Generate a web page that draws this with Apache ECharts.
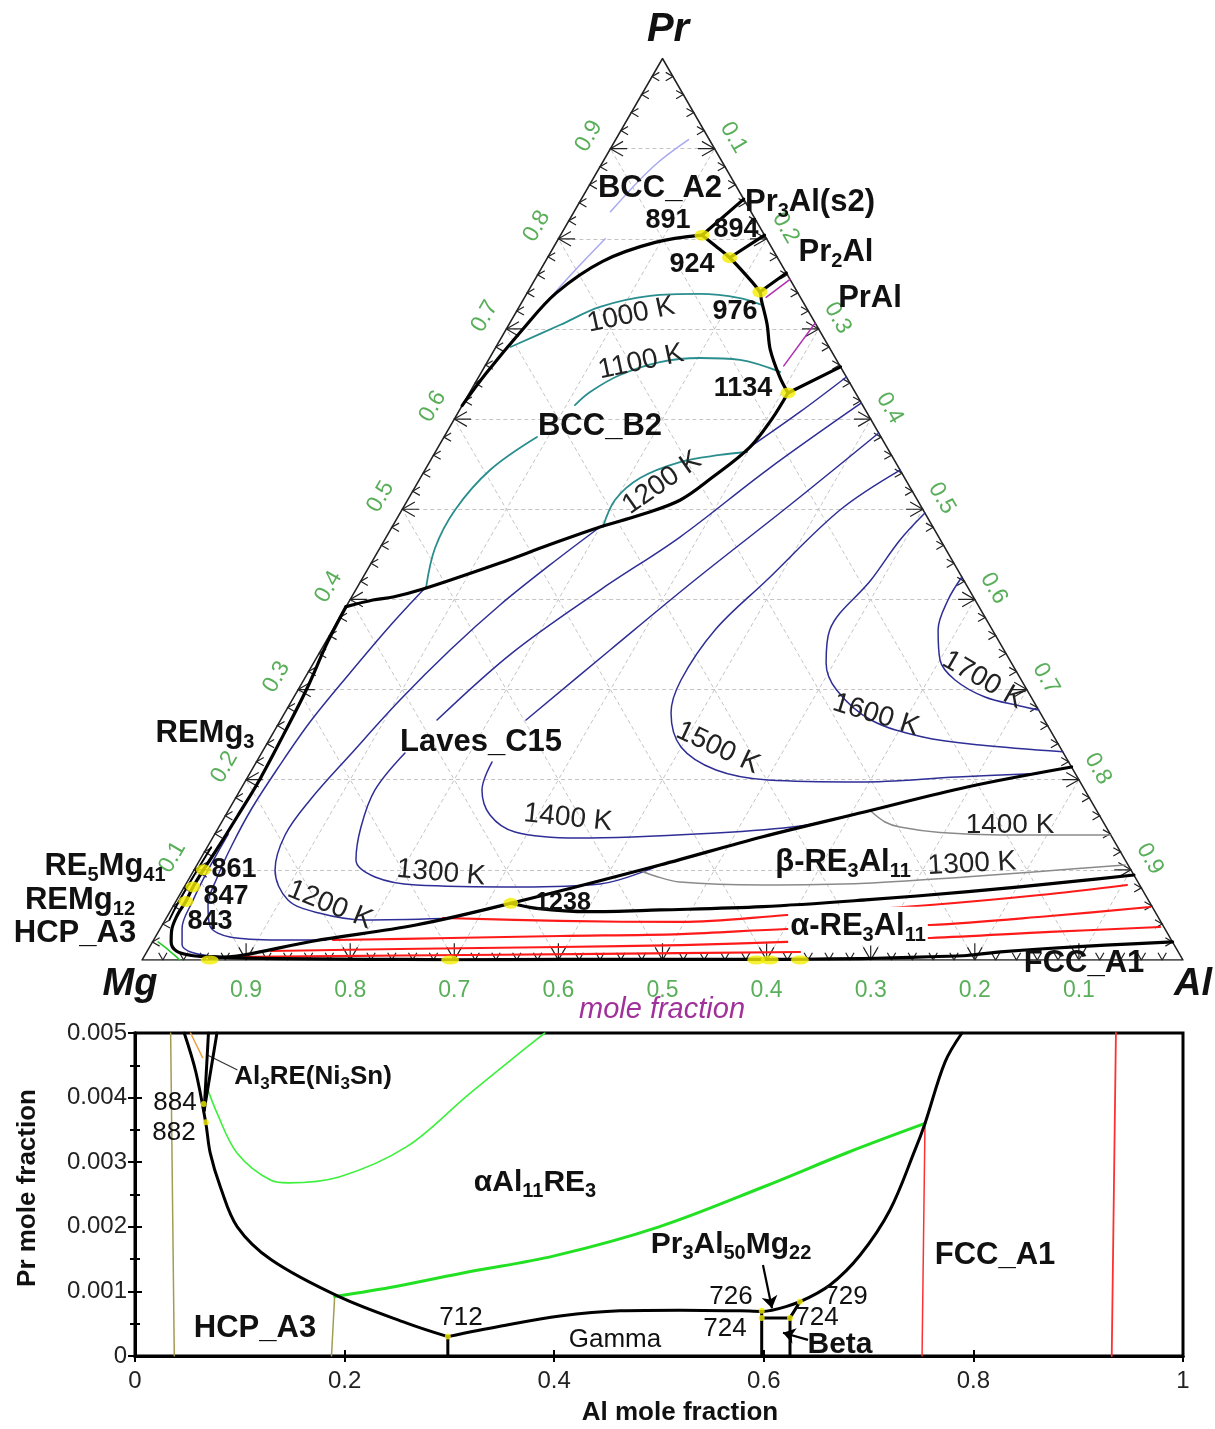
<!DOCTYPE html>
<html><head><meta charset="utf-8">
<script src="https://cdn.jsdelivr.net/npm/echarts/dist/echarts.min.js"></script>
<style>html,body{margin:0;padding:0;background:#fff}#c{width:1215px;height:1429px}</style>
</head><body><div id="c"></div>
<script>
// ---------- ternary data: points are [xAl, xPr] (xMg = 1 - xAl - xPr) ----------
const bccA2B2 = [[0,0.615],[0.005,0.65],[0.016,0.70],[0.028,0.74],[0.055,0.775],[0.095,0.796],[0.136,0.804]];
const a2Pr3Al = [[0.136,0.804],[0.156,0.844]];
const chain891to1134 = [[0.136,0.804],[0.155,0.792],[0.175,0.779],[0.2,0.76],[0.223,0.741],[0.229,0.732],[0.248,0.705],[0.265,0.677],[0.289,0.647],[0.306,0.629]];
const line924 = [[0.175,0.779],[0.196,0.804]];
const line976 = [[0.223,0.741],[0.238,0.762]];
const line1134 = [[0.306,0.629],[0.342,0.658]];
const b2Laves = [[0.306,0.629],[0.305,0.6],[0.2995,0.569],[0.2806,0.536],[0.2617,0.51],[0.2316,0.4936],[0.1998,0.4803],[0.16,0.46],[0.1237,0.4404],[0.0642,0.4115],[0.0398,0.4027],[0.0222,0.3993],[0,0.392]];
const remg3 = [[0,0.392],[0.002,0.352],[0.008,0.30],[0.011,0.25],[0.013,0.20],[0.012,0.16],[0.011,0.133],[0.009,0.100]];
const edgeBundle = [[0.004,0.125],[0.003,0.09],[0.003,0.06],[0.004,0.045]];
const cornerLine = [[0.009,0.100],[0.0085,0.081],[0.0096,0.065],[0.009,0.05],[0.012,0.033],[0.018,0.02],[0.028,0.01],[0.045,0.005],[0.066,0.0037]];
const alphaLow = [[0.066,0.0037],[0.083,0.0026],[0.1,0.002],[0.129,0.0016],[0.186,0.001],[0.253,0.0006],[0.296,0.0003],[0.405,0.0006],[0.52,0.0007],[0.598,0.0007],[0.632,0.00085],[0.69,0.0016],[0.72,0.0023],[0.754,0.0036],[0.79,0.005],[0.82,0.009],[0.86,0.0125],[0.917,0.0166],[0.98,0.02]];
const lavesBeta = [[0.064,0.0019],[0.0946,0.0055],[0.1533,0.0208],[0.2437,0.0388],[0.3228,0.0629],[0.4449,0.1054],[0.5279,0.1368],[0.6127,0.1645],[0.6976,0.1922],[0.7859,0.2141]];
const betaAlpha = [[0.3228,0.0629],[0.3504,0.0573],[0.402,0.0536],[0.4699,0.0555],[0.5667,0.0591],[0.6617,0.0666],[0.7558,0.0758],[0.849,0.0869],[0.9057,0.0943]];
const redA = [[0.2658,0.0466],[0.3799,0.0433],[0.4967,0.0422],[0.5946,0.0499],[0.7265,0.061],[0.8266,0.0721],[0.9046,0.0832]];
const redB = [[0.1724,0.0222],[0.2837,0.0244],[0.3882,0.0266],[0.5034,0.0288],[0.6024,0.0344],[0.7376,0.0388],[0.8478,0.0488],[0.9389,0.0588]];
const redC = [[0.1189,0.01],[0.2417,0.0122],[0.3943,0.0144],[0.5095,0.0166],[0.6096,0.02],[0.7448,0.0244],[0.8567,0.0311],[0.9596,0.0366]];
const redD = [[0.0828,0.0033],[0.2453,0.005],[0.4367,0.0067],[0.6277,0.0089]];
const gray1400 = [[0.617,0.1655],[0.6372,0.1531],[0.6543,0.1475],[0.6959,0.1414],[0.7549,0.1387],[0.8606,0.1387]];
const gray1300 = [[0.428,0.0995],[0.4462,0.0932],[0.4735,0.0865],[0.5547,0.0832],[0.6525,0.0851],[0.7475,0.0924],[0.8105,0.0979],[0.8916,0.1054]];
const b1700 = [[0.5752,0.4248],[0.5746,0.3993],[0.5817,0.3661],[0.6002,0.3328],[0.6257,0.3106],[0.6639,0.2917],[0.7025,0.2818],[0.7227,0.2773]];
const b1600 = [[0.5042,0.4958],[0.4952,0.4659],[0.4895,0.4215],[0.4776,0.3661],[0.4924,0.3295],[0.5175,0.2995],[0.5672,0.2662],[0.6264,0.2474],[0.6857,0.2385],[0.7689,0.2311]];
const b1500 = [[0.4565,0.5435],[0.4209,0.4992],[0.3896,0.4215],[0.3674,0.3661],[0.3625,0.3106],[0.3712,0.274],[0.3996,0.2363],[0.446,0.2108],[0.5015,0.1997],[0.591,0.1975],[0.6814,0.203],[0.7573,0.207]];
const b1400a = [[0.4154,0.5846],[0.3701,0.5047],[0.3204,0.4215],[0.2777,0.3439],[0.2358,0.2662]];
const b1400b = [[0.2264,0.2196],[0.2323,0.1886],[0.2539,0.1608],[0.2873,0.142],[0.3511,0.1353],[0.481,0.1409],[0.5578,0.1486],[0.606,0.162]];
const b1300a = [[0.3821,0.6179],[0.3286,0.5435],[0.2822,0.4692],[0.2348,0.4104],[0.1851,0.3405],[0.1503,0.2662]];
const b1300b = [[0.1378,0.2296],[0.1295,0.1886],[0.1366,0.1475],[0.1501,0.1109],[0.1778,0.0921],[0.2216,0.0832],[0.3217,0.081],[0.3978,0.0843],[0.4449,0.1054]];
const b1200a = [[0.2995,0.569],[0.3281,0.6079],[0.3533,0.6467]];
const b1200b = [[0.1998,0.4803],[0.1728,0.4382],[0.147,0.3938],[0.124,0.3439],[0.1036,0.2884],[0.0861,0.2274],[0.0727,0.1775],[0.0681,0.1387],[0.0779,0.0998],[0.1069,0.0666],[0.1439,0.0521],[0.1911,0.0444],[0.266,0.046]];
const b1100 = [[0.066,0.414],[0.0529,0.3705],[0.0406,0.3184],[0.0294,0.264],[0.0241,0.213],[0.0214,0.1686],[0.0227,0.1276],[0.0265,0.091],[0.0329,0.061],[0.0464,0.0377],[0.0717,0.0255],[0.1195,0.0222],[0.1657,0.0222]];
const b1000 = [[0.013,0.14],[0.0135,0.1],[0.016,0.065],[0.021,0.035],[0.03,0.017],[0.045,0.008],[0.07,0.004],[0.1,0.003]];
const t1000 = [[0.014,0.68],[0.0493,0.7044],[0.0778,0.7244],[0.1197,0.7366],[0.1666,0.7388],[0.2073,0.7343],[0.2323,0.7266]];
const t1100a = [[0.2868,0.6523],[0.2417,0.6656],[0.2021,0.6678],[0.1659,0.6633],[0.1347,0.6489],[0.1154,0.6301],[0.1081,0.6156]];
const t1100b = [[0.0894,0.5801],[0.0626,0.5435],[0.0511,0.4992],[0.053,0.457],[0.066,0.414]];
const t1200 = [[0.2027,0.4803],[0.1992,0.5103],[0.2111,0.5347],[0.2406,0.5524],[0.2751,0.5602],[0.2995,0.5635]];
const magentaA = [[0.287,0.659],[0.2934,0.7066]];
const magentaB = [[0.232,0.735],[0.245,0.755]];
const lavA = [[0.016,0.70],[0.032,0.76],[0.045,0.80]];
const lavB = [[0.035,0.83],[0.051,0.88],[0.07,0.91]];
const greenCorner = [[0.0054,0.02],[0.02,0.011],[0.0365,0]];
const junctionPts = [[0.136,0.804],[0.175,0.779],[0.223,0.741],[0.306,0.629],[0.3228,0.0629],[0.009,0.100],[0.0085,0.081],[0.0096,0.065]];
const baseDots = [[0.065,0],[0.296,0],[0.59,0],[0.603,0],[0.632,0]];
const tickVals = [0.1,0.2,0.3,0.4,0.5,0.6,0.7,0.8,0.9];
const tickText = ['0.1','0.2','0.3','0.4','0.5','0.6','0.7','0.8','0.9'];

// ---------- lower plot data: [xAl, xPr] ----------
const hcpBound = [[0.047,0.005],[0.058,0.0044],[0.0676,0.0036],[0.0718,0.00314],[0.0814,0.00262],[0.0976,0.002],[0.13,0.00149],[0.1947,0.00092],[0.2593,0.00051],[0.2985,0.0003]];
const vLine1 = [[0.0701,0.005],[0.066,0.0038]];
const vLine2 = [[0.0782,0.005],[0.066,0.0038]];
const orangeLow = [[0.053,0.005],[0.0645,0.00462]];
const leader = [[0.0973,0.00443],[0.069,0.00466]];
const drop712 = [[0.2985,0.0003],[0.2985,0]];
const gammaLine = [[0.2985,0.0003],[0.3483,0.00046],[0.4055,0.00062],[0.4628,0.0007],[0.52,0.00071],[0.5773,0.0007],[0.598,0.00069],[0.6345,0.00084]];
const boxL = [[0.598,0.00069],[0.598,0]];
const boxTop = [[0.598,0.00059],[0.625,0.00059]];
const boxR = [[0.625,0],[0.625,0.00059],[0.6345,0.00084]];
const fccBound = [[0.6345,0.00084],[0.6632,0.0011],[0.6918,0.00156],[0.7204,0.00226],[0.7443,0.00319],[0.7538,0.0036],[0.7729,0.00455],[0.7891,0.005]];
const green1 = [[0.0685,0.00417],[0.0783,0.00376],[0.0975,0.00314],[0.1298,0.00272],[0.1462,0.00268],[0.1947,0.00277],[0.2593,0.00324],[0.3176,0.00404],[0.36,0.0046],[0.391,0.005]];
const green2 = [[0.1905,0.00092],[0.25,0.00108],[0.3176,0.0013],[0.4,0.00155],[0.5,0.002],[0.6,0.00262],[0.68,0.00315],[0.7538,0.0036]];
const olive1 = [[0.034,0.005],[0.0375,0]];
const olive2 = [[0.1905,0.00092],[0.1875,0]];
const red1 = [[0.7538,0.0036],[0.751,0]];
const red2 = [[0.936,0.005],[0.932,0]];
const lowDots = [[0.0655,0.0039],[0.0676,0.00362],[0.2985,0.0003],[0.598,0.0007],[0.598,0.00059],[0.625,0.00059],[0.6345,0.00084]];
const arrowPr3 = [[0.5992,0.00141],[0.6078,0.00074]];
const arrowBeta = [[0.6422,0.00025],[0.6183,0.00036]];
const xTicks = [0,0.2,0.4,0.6,0.8,1];
const yTicks = [0,0.001,0.002,0.003,0.004,0.005];

// ---------- helpers ----------
const S3 = Math.sqrt(3) / 2;
const tp = p => [p[0] + p[1] / 2, p[1] * S3];
const F = 'Liberation Sans, Arial, sans-serif';
const series = [];
function tLine(pts, color, width, extra) {
  series.push(Object.assign({type:'line', xAxisIndex:0, yAxisIndex:0, data: pts.map(tp), symbol:'none', smooth:0.35,
    silent:true, animation:false, z:3, lineStyle:{color:color, width:width, cap:'round', join:'round'}}, extra||{}));
}
function bLine(pts, color, width, extra) {
  series.push(Object.assign({type:'line', xAxisIndex:1, yAxisIndex:1, data: pts, symbol:'none', smooth:0.35,
    silent:true, animation:false, z:3, lineStyle:{color:color, width:width, cap:'round', join:'round'}}, extra||{}));
}

// ternary grid (dashed) and frame
const gridSegs = [];
tickVals.forEach(v => {
  gridSegs.push({coords:[tp([0,v]), tp([1-v,v])]});
  gridSegs.push({coords:[tp([v,0]), tp([v,1-v])]});
  gridSegs.push({coords:[tp([1-v,0]), tp([0,1-v])]});
});
series.push({type:'lines', coordinateSystem:'cartesian2d', xAxisIndex:0, yAxisIndex:0, data:gridSegs, silent:true, animation:false, z:1,
  lineStyle:{color:'#c4c4c4', width:1, type:[4,3], opacity:1}});
// arrow-head ticks every 0.02 ('<' on the left edge, '>' on the right edge, 'V' on the base)
const chev = [];
const C30 = Math.cos(Math.PI/6), S30 = 0.5;
for (let i = 1; i < 50; i++) {
  const v = i / 50, major = (i % 5 === 0), L = major ? 0.014 : 0.008, M = 0.016;
  const A = tp([0, v]);
  chev.push({coords:[[A[0]+L*C30, A[1]+L*S30], A, [A[0]+L*C30, A[1]-L*S30]]});
  if (major) chev.push({coords:[A, [A[0]+M, A[1]]]});
  const B = tp([1-v, v]);
  chev.push({coords:[[B[0]-L*C30, B[1]+L*S30], B, [B[0]-L*C30, B[1]-L*S30]]});
  if (major) chev.push({coords:[B, [B[0]-M, B[1]]]});
  const D = tp([v, 0]);
  chev.push({coords:[[D[0]-L*S30, D[1]+L*C30], D, [D[0]+L*S30, D[1]+L*C30]]});
  if (major) chev.push({coords:[D, [D[0], D[1]+M]]});
}
series.push({type:'lines', coordinateSystem:'cartesian2d', xAxisIndex:0, yAxisIndex:0, polyline:true, data:chev, silent:true, animation:false, z:2,
  lineStyle:{color:'#222', width:1.2, opacity:1}});
tLine([[0,0],[1,0],[0,1],[0,0]], '#222', 1.5, {smooth:false, z:2});

// isotherms
const BLUE = '#2e2e96', TEAL = '#2a8e8e';
[b1700,b1600,b1500,b1400a,b1400b,b1300a,b1300b,b1200a,b1200b,b1100,b1000].forEach(c => tLine(c, BLUE, 1.5));
[t1000,t1100a,t1100b,t1200].forEach(c => tLine(c, TEAL, 1.8));
[gray1400,gray1300].forEach(c => tLine(c, '#8a8a8a', 1.5));
[redA,redB,redC,redD].forEach(c => tLine(c, '#ff1a1a', 2.2));
[magentaA,magentaB].forEach(c => tLine(c, '#b030b0', 1.5, {smooth:false}));
[lavA,lavB].forEach(c => tLine(c, '#a9a9f0', 1.5));
tLine(greenCorner, '#22cc22', 1.5);
// boundaries
[bccA2B2,chain891to1134,b2Laves,remg3,cornerLine,lavesBeta,betaAlpha].forEach(c => tLine(c, '#000', 3.2, {z:5}));
[a2Pr3Al,line924,line976,line1134].forEach(c => tLine(c, '#000', 3.2, {smooth:false, z:5}));
tLine(alphaLow, '#000', 3.2, {z:5, smooth:0.2});
tLine(edgeBundle, '#000', 2, {z:5});
// yellow invariant points
series.push({type:'scatter', xAxisIndex:0, yAxisIndex:0, data: junctionPts.map(tp), symbolSize:[15,11], silent:true, animation:false, z:6,
  itemStyle:{color:'#f4ee00'}});
series.push({type:'scatter', xAxisIndex:0, yAxisIndex:0, data: baseDots.map(tp), symbolSize:[18,9], silent:true, animation:false, z:6,
  itemStyle:{color:'#f4ee00'}});
// ternary tick labels (offset is applied in the rotated label frame)
const GREEN = '#2f9a2f';
function tickLabelSeries(pts, rot, off) {
  series.push({type:'scatter', xAxisIndex:0, yAxisIndex:0, data: pts, symbolSize:0, silent:true, animation:false, z:7,
    label:{show:true, position:'inside', offset:off, rotate:rot, color:GREEN, fontSize:23, fontFamily:F,
      formatter: p => tickText[p.dataIndex]}});
}
tickLabelSeries(tickVals.map(v => tp([0, v])), 60, [0, -25]);
tickLabelSeries(tickVals.map(v => tp([v, 1 - v])), -60, [0, -22]);
tickLabelSeries(tickVals.map(v => tp([1 - v, 0])), 0, [0, 31]);

// ---------- lower plot ----------
bLine(olive1, '#a39b52', 1.5, {smooth:false});
bLine(olive2, '#a39b52', 1.5, {smooth:false});
bLine(red1, '#ff3030', 1.5, {smooth:false});
bLine(red2, '#ff3030', 1.8, {smooth:false});
bLine(green1, '#3cf03c', 1.6);
bLine(green2, '#22e022', 3);
bLine(orangeLow, '#f0a040', 1.5, {smooth:false});
bLine(leader, '#333', 1.2, {smooth:false});
[hcpBound, gammaLine, fccBound].forEach(c => bLine(c, '#000', 3, {z:5}));
[vLine1, vLine2, drop712, boxL, boxTop, boxR].forEach(c => bLine(c, '#000', 3, {z:5, smooth:false}));
series.push({type:'scatter', xAxisIndex:1, yAxisIndex:1, data: lowDots, symbolSize:6, silent:true, animation:false, z:6, itemStyle:{color:'#f4ee00'}});
series.push({type:'lines', coordinateSystem:'cartesian2d', xAxisIndex:1, yAxisIndex:1, silent:true, animation:false, z:7,
  symbol:['none','arrow'], symbolSize:12, lineStyle:{color:'#000', width:2.2, opacity:1},
  data:[{coords:arrowPr3},{coords:arrowBeta}]});

// ---------- annotations ----------
function txt(x, y, text, size, o) {
  o = o || {};
  return {type:'text', x:x, y:y, rotation:(o.rot||0)*Math.PI/180, z:100, silent:true,
    style:{text:text, fill:o.color||'#111', fontSize:size, fontWeight:o.bold===false?'normal':'bold',
      fontStyle:o.italic?'italic':'normal', fontFamily:o.family||F, align:'center', verticalAlign:'middle',
      backgroundColor:o.bg, padding:o.pad}};
}
function rtxt(x, y, parts, size, o) {
  o = o || {};
  const w = o.bold===false ? 'normal' : 'bold';
  const fam = o.family || F;
  let s = '';
  parts.forEach((p, i) => { s += (i % 2 === 0 ? '{n|' : '{s|') + p + '}'; });
  return {type:'text', x:x, y:y, z:100, silent:true,
    style:{text:s, align:'center', verticalAlign:'middle', backgroundColor:o.bg, padding:o.pad,
      rich:{n:{fontSize:size, fontWeight:w, fontFamily:fam, fill:'#111', lineHeight:size*1.25, verticalAlign:'middle'},
            s:{fontSize:Math.round(size*0.66), fontWeight:w, fontFamily:fam, fill:'#111', lineHeight:Math.round(size*0.7), verticalAlign:'bottom'}}}};
}
const RL = 31, TL = 27, IL = 28;
const graphics = [
  txt(668,30,'Pr',40,{italic:true}),
  txt(130,985,'Mg',38,{italic:true}),
  txt(1193,985,'Al',38,{italic:true}),
  txt(662,1010,'mole fraction',29,{italic:true,bold:false,color:'#a0309a'}),
  txt(660,188,'BCC_A2',RL),
  rtxt(810,202,['Pr','3','Al(s2)'],RL),
  txt(668,221,'891',TL), txt(736,230,'894',TL), txt(692,265,'924',TL),
  rtxt(836,252,['Pr','2','Al'],RL),
  txt(870,298,'PrAl',RL),
  txt(735,312,'976',TL), txt(743,389,'1134',TL),
  txt(600,426,'BCC_B2',RL),
  txt(481,742,'Laves_C15',RL),
  rtxt(205,733,['REMg','3'],RL),
  rtxt(105,866,['RE','5','Mg','41'],RL),
  rtxt(80,900,['REMg','12'],RL),
  txt(75,933,'HCP_A3',RL),
  txt(234,870,'861',TL), txt(226,897,'847',TL), txt(210,922,'843',TL),
  txt(563,903,'1238',25),
  rtxt(843,862,['β-RE','3','Al','11'],RL),
  rtxt(858,926,['α-RE','3','Al','11'],RL,{bg:'#fff',pad:[0,2]}),
  txt(1084,963,'FCC_A1',RL),
  txt(631,315,'1000 K',IL,{bold:false,rot:12,color:'#222'}),
  txt(641,362,'1100 K',IL,{bold:false,rot:12,color:'#222'}),
  txt(662,483,'1200 K',IL,{bold:false,rot:35,color:'#222'}),
  txt(330,905,'1200 K',IL,{bold:false,rot:-22,color:'#222'}),
  txt(441,873,'1300 K',IL,{bold:false,rot:-5,color:'#222'}),
  txt(568,818,'1400 K',IL,{bold:false,rot:-6,color:'#222'}),
  txt(718,748,'1500 K',IL,{bold:false,rot:-25,color:'#222'}),
  txt(876,715,'1600 K',IL,{bold:false,rot:-17,color:'#222'}),
  txt(983,680,'1700 K',IL,{bold:false,rot:-30,color:'#222'}),
  txt(1010,825,'1400 K',IL,{bold:false,color:'#222'}),
  txt(972,864,'1300 K',IL,{bold:false,rot:3,color:'#222'}),
  // lower plot
  rtxt(313,1077,['Al','3','RE(Ni','3','Sn)'],26),
  txt(175,1103,'884',26,{bold:false}), txt(174,1133,'882',26,{bold:false}),
  rtxt(535,1183,['αAl','11','RE','3'],30),
  rtxt(731,1245,['Pr','3','Al','50','Mg','22'],30),
  txt(995,1255,'FCC_A1',31),
  txt(255,1328,'HCP_A3',31),
  txt(461,1318,'712',26,{bold:false}),
  txt(731,1297,'726',26,{bold:false}),
  txt(846,1297,'729',26,{bold:false}),
  txt(725,1329,'724',26,{bold:false}),
  txt(817,1318,'724',26,{bold:false}),
  txt(615,1340,'Gamma',26,{bold:false}),
  txt(840,1345,'Beta',30),
  txt(28,1188,'Pr mole fraction',26,{rot:90}),
  txt(680,1413,'Al mole fraction',26)
];

const axLbl = {color:'#222', fontSize:24, fontFamily:F};
const option = {
  animation:false,
  backgroundColor:'#fff',
  grid:[
    {left:142, top:58.5, width:1041, height:901.5, show:false},
    {left:135, top:1033, width:1048, height:323, show:true, borderColor:'#000', borderWidth:3, backgroundColor:'transparent'}
  ],
  xAxis:[
    {gridIndex:0, type:'value', min:0, max:1, show:false},
    {gridIndex:1, type:'value', min:xTicks[0], max:xTicks[xTicks.length-1], interval:0.2, position:'bottom',
      axisLine:{lineStyle:{color:'#000', width:3}}, axisTick:{inside:true, length:6, lineStyle:{color:'#000', width:2}},
      splitLine:{show:false}, axisLabel:Object.assign({margin:13, formatter:v => (v===0?'0':(v===1?'1':v.toFixed(1)))}, axLbl)},
    {gridIndex:1, type:'value', min:0, max:1, interval:0.2, position:'top',
      axisLine:{lineStyle:{color:'#000', width:3}}, axisTick:{inside:true, length:6, lineStyle:{color:'#000', width:2}},
      splitLine:{show:false}, axisLabel:{show:false}}
  ],
  yAxis:[
    {gridIndex:0, type:'value', min:0, max:S3, show:false},
    {gridIndex:1, type:'value', min:yTicks[0], max:yTicks[yTicks.length-1], interval:0.001, position:'left',
      axisLine:{show:true, lineStyle:{color:'#000', width:3}}, axisTick:{inside:true, length:7, lineStyle:{color:'#000', width:2}},
      minorTick:{show:true, splitNumber:2, length:5, lineStyle:{color:'#000', width:2}},
      splitLine:{show:false}, axisLabel:Object.assign({margin:8, formatter:v => (v===0?'0':v.toFixed(3))}, axLbl)},
    {gridIndex:1, type:'value', min:0, max:0.005, interval:0.001, position:'right',
      axisLine:{show:true, lineStyle:{color:'#000', width:3}}, axisTick:{inside:true, length:7, lineStyle:{color:'#000', width:2}},
      minorTick:{show:true, splitNumber:2, length:5, lineStyle:{color:'#000', width:2}},
      splitLine:{show:false}, axisLabel:{show:false}}
  ],
  series:series,
  graphic:graphics
};
const chart = echarts.init(document.getElementById('c'), null, {renderer:'canvas'});
chart.setOption(option);
</script></body></html>
